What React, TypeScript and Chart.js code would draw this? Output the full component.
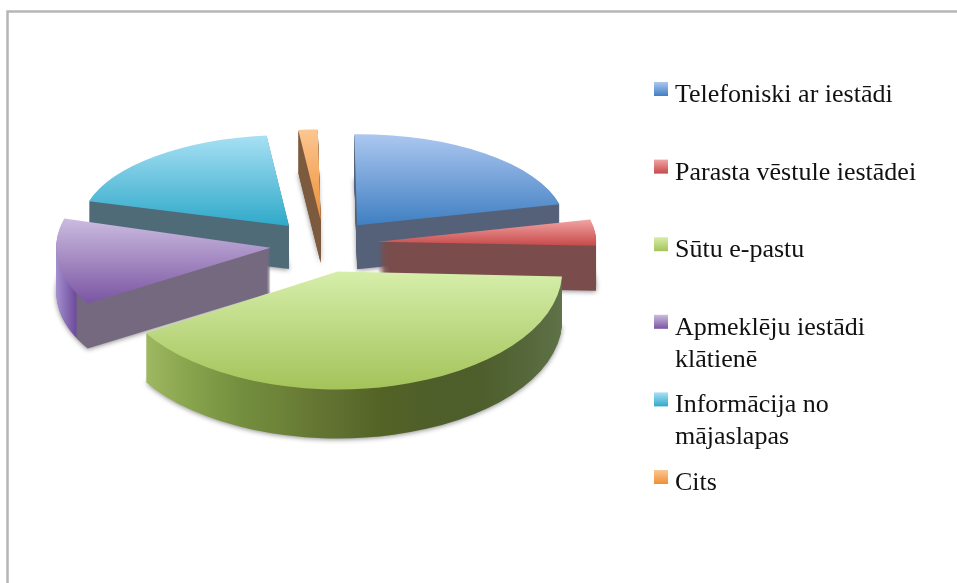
import React, { useEffect, useRef } from "react";
import { Chart, registerables } from "chart.js";

Chart.register(...registerables);

const categories = [
  "Telefoniski ar iestādi",
  "Parasta vēstule iestādei",
  "Sūtu e-pastu",
  "Apmeklēju iestādi klātienē",
  "Informācija no mājaslapas",
  "Cits",
];
const shares = [21.5, 4.4, 40.6, 13.1, 18.9, 1.5];

// styling of the tilted, exploded pie
const baseColors = ["#4f81bd", "#c0504d", "#9bbb59", "#8064a2", "#4bacc6", "#f79646"];
const topLight = ["#acc7f0", "#f0a5a3", "#d6eeaa", "#cbbbe0", "#a8e0f4", "#fcc692"];
const topDark = ["#3f7fc2", "#c8494a", "#a4c35a", "#7a55a2", "#2fa9c9", "#ef8f36"];
const tilt = [0.4375, 0.44, 0.525, 0.5, 0.4375, 0.4375];
const spread = [1, 1.05, 1.08, 1.03, 1, 1];
const depth = [44, 45, 49, 45, 43, 43];
const wallStops: [number, string][][] = [
  [[0, "#556178"], [1, "#556178"]],
  [[0, "#7a4d4c"], [1, "#7a4d4c"]],
  [[0, "#a3bb66"], [0.07, "#a0b863"], [0.16, "#8aa64e"], [0.28, "#748f3f"], [0.38, "#6c8238"], [0.46, "#647432"], [0.5, "#5f7030"], [0.6, "#536225"], [0.7, "#4f5f2a"], [0.82, "#4e5e2c"], [0.92, "#56683a"], [1, "#5f7248"]],
  [[0, "#a38fce"], [0.045, "#6f4c9e"], [0.05, "#75697f"], [1, "#75697f"]],
  [[0, "#4e6b77"], [1, "#4e6b77"]],
  [[0, "#7c5a3e"], [1, "#7c5a3e"]],
];
const PIE_RADIUS = 208;
const EXPLODE = 54;
const CENTER_X = 324;
const CENTER_Y = 244;

const LEGEND_FONT = "26px 'Liberation Serif'";
const LEGEND_WRAP = 270;

function wrap(ctx: CanvasRenderingContext2D, text: string): string[] {
  const lines: string[] = [];
  let line = "";
  for (const word of text.split(" ")) {
    const next = line ? line + " " + word : word;
    if (line && ctx.measureText(next).width > LEGEND_WRAP) {
      lines.push(line);
      line = word;
    } else line = next;
  }
  lines.push(line);
  return lines;
}

const pie3d = {
  id: "pie3d",
  beforeDraw(chart: any) {
    const { ctx, width, height } = chart;
    ctx.save();
    ctx.fillStyle = "#ffffff";
    ctx.fillRect(0, 0, width, height);
    ctx.strokeStyle = "#b6b6b6";
    ctx.lineWidth = 2.5;
    ctx.beginPath();
    ctx.moveTo(7.5, height);
    ctx.lineTo(7.5, 11.5);
    ctx.lineTo(width, 11.5);
    ctx.stroke();
    ctx.restore();
  },
  beforeDatasetsDraw(chart: any) {
    const { ctx } = chart;
    const arcs: any[] = chart.getDatasetMeta(0).data;
    const midOf = (a: any) => (a.startAngle + a.endAngle) / 2;
    const order = arcs
      .map((_, i) => i)
      .sort((a, b) => Math.sin(midOf(arcs[a])) - Math.sin(midOf(arcs[b])));

    for (const i of order) {
      const arc = arcs[i];
      const original = arc.options;
      const mid = midOf(arc);
      const k = tilt[i];
      const s = spread[i];
      const R = arc.outerRadius;

      // extents of the slice in the un-tilted pie, for the gradients
      const ys = [0, Math.sin(arc.startAngle), Math.sin(arc.endAngle)];
      for (const q of [-Math.PI / 2, Math.PI / 2, (3 * Math.PI) / 2]) {
        if (q > arc.startAngle && q < arc.endAngle) ys.push(Math.sin(q));
      }
      const top = ctx.createLinearGradient(
        0,
        arc.y + Math.min(...ys) * R,
        0,
        arc.y + Math.max(...ys) * R,
      );
      top.addColorStop(0, topLight[i]);
      top.addColorStop(1, topDark[i]);

      const wall = ctx.createLinearGradient(arc.x - R, 0, arc.x + R, 0);
      for (const [p, c] of wallStops[i]) wall.addColorStop(p, c);

      const paint = (dy: number, fill: any) => {
        ctx.save();
        ctx.translate(
          CENTER_X + Math.cos(mid) * EXPLODE,
          CENTER_Y + Math.sin(mid) * EXPLODE * k + dy,
        );
        ctx.scale(s, k * s);
        ctx.translate(-arc.x, -arc.y);
        arc.options = { ...original, backgroundColor: fill, borderWidth: 0 };
        arc.draw(ctx);
        ctx.restore();
      };

      ctx.save();
      ctx.shadowColor = "rgba(0,0,0,0.45)";
      ctx.shadowBlur = 5;
      ctx.shadowOffsetY = 1;
      paint(depth[i], wall);
      ctx.restore();
      for (let d = depth[i] - 1; d >= 1; d--) paint(d, wall);
      paint(0, top);
      arc.options = original;
    }
    return false;
  },
  afterDraw(chart: any) {
    const { ctx } = chart;
    const labels: string[] = chart.data.labels;
    ctx.save();
    ctx.font = LEGEND_FONT;
    ctx.textBaseline = "alphabetic";
    ctx.textAlign = "left";
    labels.forEach((label, i) => {
      const y = 102 + i * 77.6;
      const grad = ctx.createLinearGradient(0, y - 20, 0, y - 6);
      grad.addColorStop(0, topLight[i]);
      grad.addColorStop(1, topDark[i]);
      ctx.fillStyle = grad;
      ctx.fillRect(654, y - 20, 14, 14);
      ctx.fillStyle = "#111111";
      wrap(ctx, label).forEach((line, n) => {
        ctx.fillText(line, 675, y + n * 32);
      });
    });
    ctx.restore();
  },
};

export default function App() {
  const ref = useRef<HTMLCanvasElement | null>(null);
  useEffect(() => {
    if (!ref.current) return;
    const chart = new Chart(ref.current, {
      type: "pie",
      data: {
        labels: categories,
        datasets: [
          {
            data: shares,
            backgroundColor: baseColors,
            borderWidth: 0,
            radius: PIE_RADIUS,
          } as any,
        ],
      },
      options: {
        responsive: false,
        animation: false,
        rotation: -0.8,
        plugins: { legend: { display: false }, tooltip: { enabled: false } },
      },
      plugins: [pie3d as any],
    });
    return () => chart.destroy();
  }, []);
  return (
    <canvas
      ref={ref}
      width={957}
      height={583}
      style={{ position: "fixed", left: 0, top: 0, display: "block" }}
    />
  );
}
